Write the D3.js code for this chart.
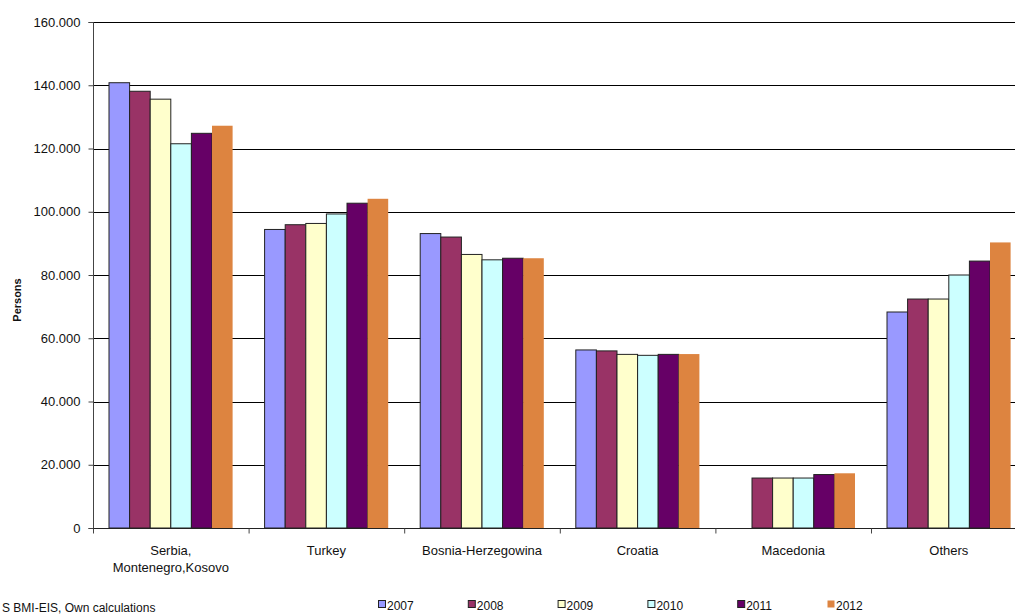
<!DOCTYPE html>
<html>
<head>
<meta charset="utf-8">
<script src="https://cdn.jsdelivr.net/npm/d3@7"></script>
<style>
  html, body { margin: 0; padding: 0; background: #fff; overflow: hidden; }
  svg { display: block; font-family: "Liberation Sans", Arial, sans-serif; }
</style>
</head>
<body>
<script>
// Foreign residents by citizenship, 2007–2012
const categories = [["Serbia,", "Montenegro,Kosovo"], ["Turkey"], ["Bosnia-Herzegowina"], ["Croatia"], ["Macedonia"], ["Others"]];
const years = ["2007", "2008", "2009", "2010", "2011", "2012"];
const colors = ["#9999FF", "#993366", "#FFFFCC", "#CCFFFF", "#660066", "#DD8440"];
const v2007 = [140800, 94400, 93100, 56300, null, 68300];
const v2008 = [138100, 95900, 92000, 56000, 15800, 72400];
const v2009 = [135600, 96300, 86500, 54900, 15800, 72400];
const v2010 = [121500, 99300, 84800, 54600, 15800, 80000];
const v2011 = [124800, 102700, 85300, 54900, 16900, 84400];
const v2012 = [127200, 104100, 85300, 55000, 17300, 90300];
const yTicks = [0, 20000, 40000, 60000, 80000, 100000, 120000, 140000, 160000];
const series = [v2007, v2008, v2009, v2010, v2011, v2012];
const sourceNote = "S BMI-EIS, Own calculations";

const W = 1015, H = 615;
const plotLeft = 93, plotTop = 22, plotBottom = 528, catW = 155.6;
const plotRight = plotLeft + catW * categories.length;

const svg = d3.select("body").append("svg").attr("width", W).attr("height", H);

const x0 = d3.scaleBand().domain(d3.range(categories.length)).range([plotLeft, plotRight]).paddingInner(0).paddingOuter(0);
const x1 = d3.scaleBand().domain(years).range([16, catW - 16]).padding(0);
const y = d3.scaleLinear().domain([0, 160000]).range([plotBottom, plotTop]);

const fmt = d => d === 0 ? "0" : d3.format(",")(d).replace(/,/g, ".");

// horizontal gridlines
svg.append("g").selectAll("line").data(yTicks.filter(d => d > 0)).join("line")
  .attr("x1", plotLeft).attr("x2", W)
  .attr("y1", d => Math.round(y(d)) + 0.5).attr("y2", d => Math.round(y(d)) + 0.5)
  .attr("stroke", "#000").attr("stroke-width", 1);

// bars
const groups = svg.append("g").selectAll("g").data(categories).join("g")
  .attr("transform", (d, i) => `translate(${x0(i)},0)`);
groups.each(function(c, ci) {
  d3.select(this).selectAll("rect")
    .data(years.map((yr, si) => ({ yr, si, v: series[si][ci] })).filter(d => d.v != null))
    .join("rect")
    .attr("x", d => x1(d.yr))
    .attr("width", x1.bandwidth())
    .attr("y", d => y(d.v))
    .attr("height", d => plotBottom - y(d.v))
    .attr("fill", d => colors[d.si])
    .attr("stroke", d => d.si === 5 ? "none" : "#222")
    .attr("stroke-width", 1);
});

// y axis
const yAxis = d3.axisLeft(y).tickValues(yTicks).tickFormat(fmt).tickSize(5).tickPadding(8);
const gy = svg.append("g").attr("transform", `translate(${plotLeft + 0.5},0)`).call(yAxis);
gy.select(".domain").attr("stroke", "#444").attr("d", `M-5,${plotTop + 0.5}H0V${plotBottom + 0.5}H-5`);
gy.selectAll(".tick line").attr("stroke", "#444");
gy.selectAll("text").attr("font-size", 13).attr("fill", "#111").attr("font-family", "Liberation Sans, Arial, sans-serif");

// x axis
const gx = svg.append("g").attr("transform", `translate(0,${plotBottom + 0.5})`);
gx.append("line").attr("x1", plotLeft).attr("x2", W).attr("stroke", "#222");
gx.selectAll("line.t").data(d3.range(categories.length + 1)).join("line").attr("class", "t")
  .attr("x1", i => plotLeft + i * catW + 0.5).attr("x2", i => plotLeft + i * catW + 0.5)
  .attr("y1", 0).attr("y2", 5).attr("stroke", "#444");
gx.selectAll("text").data(categories).join("text")
  .attr("text-anchor", "middle").attr("font-size", 13).attr("fill", "#111")
  .attr("transform", (d, i) => `translate(${x0(i) + catW / 2},0)`)
  .each(function(lines) {
    d3.select(this).selectAll("tspan").data(lines).join("tspan")
      .attr("x", 0).attr("y", (l, k) => 26 + k * 17).text(l => l);
  });

// y axis title
svg.append("text").attr("transform", "translate(21,300) rotate(-90)")
  .attr("text-anchor", "middle").attr("font-size", 11).attr("font-weight", "bold").attr("fill", "#111")
  .text("Persons");

// legend
const leg = svg.append("g").selectAll("g").data(years).join("g")
  .attr("transform", (d, i) => `translate(${378 + i * 89.8},600)`);
leg.append("rect").attr("x", 0.5).attr("y", 0.5).attr("width", 7).attr("height", 7)
  .attr("fill", (d, i) => colors[i]).attr("stroke", (d, i) => i === 5 ? "none" : "#222");
leg.append("text").attr("x", 9).attr("y", 9.5).attr("font-size", 12).attr("fill", "#111").text(d => d);

// source note
svg.append("text").attr("x", 2).attr("y", 612).attr("font-size", 12).attr("fill", "#111").text(sourceNote);
</script>
</body>
</html>
